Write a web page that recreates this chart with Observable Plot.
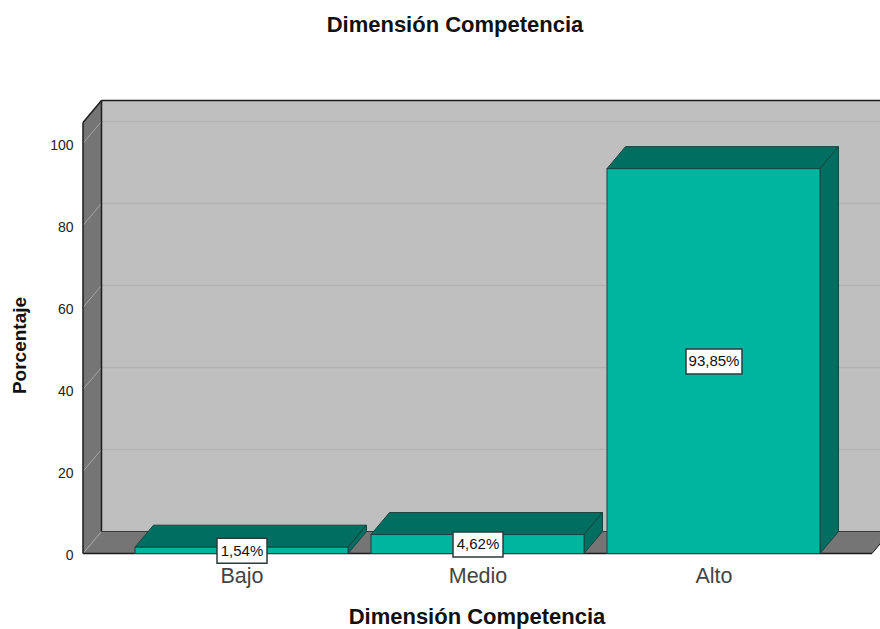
<!DOCTYPE html>
<html lang="es">
<head>
<meta charset="utf-8">
<script src="https://cdn.jsdelivr.net/npm/d3@7"></script>
<script src="https://cdn.jsdelivr.net/npm/@observablehq/plot@0.6"></script>
<style>
  html, body { margin: 0; padding: 0; background: #fff; overflow: hidden; }
  body { width: 880px; height: 629px; font-family: "Liberation Sans", Arial, sans-serif; }
  #title { height: 50px; line-height: 50px; width: 910px; text-align: center; font-weight: 700; font-size: 22px; color: #111; }
  #caption { height: 24px; line-height: 23px; width: 954px; text-align: center; font-weight: 700; font-size: 22px; color: #111; white-space: nowrap; }
  svg { display: block; }
</style>
</head>
<body>
<div id="title">Dimensión Competencia</div>
<div id="chart"></div>
<div id="caption">Dimensión Competencia</div>
<script>
// Percentage of respondents per level
const categories = ["Bajo", "Medio", "Alto"];
const percentages = [1.54, 4.62, 93.85];
const percentLabels = ["1,54%", "4,62%", "93,85%"];
const yTicks = [0, 20, 40, 60, 80, 100];

const rows = categories.map((level, i) => ({level, value: percentages[i], label: percentLabels[i]}));

// Oblique offset of the chart's depth axis, in pixels
const depth = {x: 18.5, y: -22};
const colors = {front: "#00b5a0", shade: "#006e60", edge: "#17453f", wall: "#bfbfbf", side: "#757575", line: "#1c1c1c"};

const svgNS = "http://www.w3.org/2000/svg";
function polygon(parent, points, fill, stroke, width = 1) {
  const el = document.createElementNS(svgNS, "polygon");
  el.setAttribute("points", points.map(p => p.join(",")).join(" "));
  el.setAttribute("fill", fill);
  el.setAttribute("stroke", stroke);
  el.setAttribute("stroke-width", width);
  parent.appendChild(el);
}
function segment(parent, a, b, stroke, width = 1) {
  const el = document.createElementNS(svgNS, "line");
  el.setAttribute("x1", a[0]); el.setAttribute("y1", a[1]);
  el.setAttribute("x2", b[0]); el.setAttribute("y2", b[1]);
  el.setAttribute("stroke", stroke);
  el.setAttribute("stroke-width", width);
  parent.appendChild(el);
}

// Back wall, left wall and floor of the box, tied to the y scale
function box(index, {y}, values, {width, marginLeft}) {
  const g = document.createElementNS(svgNS, "g");
  const left = marginLeft, right = 872;
  const y0 = y(0), yMax = y(y.domain()[1]);
  const back = ([px, py]) => [px + depth.x, py + depth.y];
  polygon(g, [back([left, yMax]), back([width + 40, yMax]), back([width + 40, y0]), back([left, y0])], colors.wall, "none");
  polygon(g, [[left, y0], back([left, y0]), back([left, yMax]), [left, yMax]], colors.side, "none");
  polygon(g, [[left, y0], [right, y0], back([right, y0]), back([left, y0])], colors.side, "none");
  for (const t of yTicks) {
    const py = y(t);
    if (t > 0) segment(g, back([left, py]), back([width + 40, py]), "#b2b2b2", 1.5);
    segment(g, [left, py], back([left, py]), "#a6a6a6", 1);
  }
  segment(g, [left, y0], [left, yMax], colors.line, 1.5);
  segment(g, [left, yMax], back([left, yMax]), colors.line, 1.5);
  segment(g, back([left, yMax]), back([width + 40, yMax]), colors.line, 1.5);
  segment(g, back([left, yMax]), back([left, y0]), colors.line, 1.5);
  segment(g, back([left, y0]), back([width + 40, y0]), "#3a3a3a", 1);
  segment(g, [right, y0], back([right, y0]), colors.line, 1);
  segment(g, [left, y0], [right, y0], colors.line, 1.5);
  return g;
}

// Top and right faces of each bar
function barFaces(index, {x, y}) {
  const g = document.createElementNS(svgNS, "g");
  const bw = x.bandwidth();
  for (const d of rows) {
    const x1 = x(d.level), x2 = x1 + bw, y1 = y(d.value), y0 = y(0);
    polygon(g, [[x1, y1], [x2, y1], [x2 + depth.x, y1 + depth.y], [x1 + depth.x, y1 + depth.y]], colors.shade, colors.edge);
    polygon(g, [[x2, y1], [x2 + depth.x, y1 + depth.y], [x2 + depth.x, y0 + depth.y], [x2, y0]], colors.shade, colors.edge);
  }
  return g;
}

// Rectangular value tag, used as a dot symbol
const tag = w => ({draw(ctx) { ctx.rect(-w / 2, -12.5, w, 25); }});

const chart = Plot.plot({
  width: 880,
  height: 555,
  marginTop: 72.5,
  marginBottom: 51.5,
  marginLeft: 83,
  marginRight: 49,
  style: {fontFamily: "Liberation Sans, Arial, sans-serif", background: "transparent", overflow: "hidden"},
  x: {domain: categories, range: [112, 843], padding: 0.0975, round: false, label: null},
  y: {domain: [0, 105.1], label: null},
  marks: [
    box,
    barFaces,
    Plot.barY(rows, {x: "level", y: "value", fill: colors.front, stroke: colors.edge, strokeWidth: 1}),
    Plot.axisY(yTicks, {tickSize: 0, tickPadding: 10, dy: 2, fontSize: 14, fill: "#222", marginLeft: 83, label: null}),
    Plot.axisX({tickSize: 0, tickPadding: 14, fontSize: 21.5, fill: "#444", label: null}),
    Plot.text(["Porcentaje"], {frameAnchor: "left", textAnchor: "middle", rotate: -90, dx: -64, dy: 7, fontSize: 19, fontWeight: 700, fill: "#111"}),
    Plot.dot(rows, {x: "level", y: d => d.value / 2, symbol: d => tag(d.value > 50 ? 56 : 50), r: 5, fill: "#fff", stroke: "#2b3b39", strokeWidth: 1.5}),
    Plot.text(rows, {x: "level", y: d => d.value / 2, text: "label", fontSize: 15, fill: "#111"})
  ]
});
document.getElementById("chart").appendChild(chart);
</script>
</body>
</html>
